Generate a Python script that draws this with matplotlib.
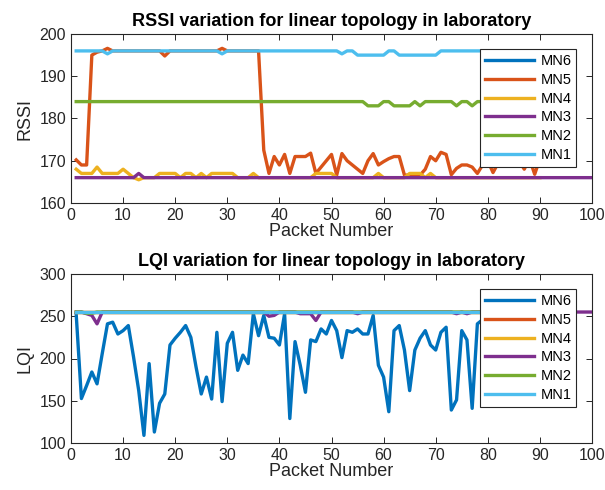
import matplotlib
matplotlib.use("Agg")
import matplotlib.pyplot as plt

plt.rcParams['font.family'] = ['Liberation Sans', 'DejaVu Sans']

labels = ["MN6", "MN5", "MN4", "MN3", "MN2", "MN1"]
colors = ["#0072BD", "#D95319", "#EDB120", "#7E2F8E", "#77AC30", "#4DBEEE"]

# ---------------- RSSI data ----------------
rssi_mn1 = [196, 196, 196, 196, 196, 196, 195.3, 196, 196, 196,
            196, 196, 196, 196, 196, 196, 196, 196, 196, 196,
            196, 196, 196, 196, 196, 196, 196, 196, 195.3, 196,
            196, 196, 196, 196, 196, 196, 196, 196, 196, 196,
            196, 196, 196, 196, 196, 196, 196, 196, 196, 196,
            196, 195.3, 196, 196, 195, 195, 195, 195, 195, 195,
            196, 196, 195, 195, 195, 195, 195, 195, 195, 195,
            196, 196, 196, 196, 196, 196, 196, 196, 196, 196,
            196, 196, 196, 196, 196, 196, 196, 196, 196, 196]
rssi_mn2 = [184, 184, 184, 184, 184, 184, 184, 184, 184, 184,
            184, 184, 184, 184, 184, 184, 184, 184, 184, 184,
            184, 184, 184, 184, 184, 184, 184, 184, 184, 184,
            184, 184, 184, 184, 184, 184, 184, 184, 184, 184,
            184, 184, 184, 184, 184, 184, 184, 184, 184, 184,
            184, 184, 184, 184, 184, 184, 183, 183, 183, 184,
            184, 183, 183, 183, 183, 184, 183, 184, 184, 184,
            184, 184, 184, 183, 184, 184, 183, 184, 184, 184,
            184, 184, 184, 184, 184, 184, 184, 184, 184, 184]
rssi_mn3 = [166, 166, 166, 166, 166, 166, 166, 166, 166, 166,
            166, 166, 167, 166, 166, 166, 166, 166, 166, 166,
            166, 166, 166, 166, 166, 166, 166, 166, 166, 166,
            166, 166, 166, 166, 166, 166, 166, 166, 166, 166,
            166, 166, 166, 166, 166, 166, 166, 166, 166, 166,
            166, 166, 166, 166, 166, 166, 166, 166, 166, 166,
            166, 166, 166, 166, 166, 166, 166, 166, 166, 166,
            166, 166, 166, 166, 166, 166, 166, 166, 166, 166,
            166, 166, 166, 166, 166, 166, 166, 166, 166, 166,
            166, 166, 166, 166, 166, 166, 166, 166, 166, 166]
rssi_mn4 = [168, 167, 167, 167, 168.5, 167, 167, 167, 167, 168,
            167, 166, 165.5, 166, 166, 166, 167, 167, 167, 167,
            166, 167, 167, 166, 167, 166, 167, 167, 167, 167,
            167, 166, 166, 166, 167, 166, 166, 166, 166, 166,
            166, 166, 166, 166, 166, 166, 167, 167, 167, 167,
            166, 166, 166, 166, 166, 166, 166, 166, 167, 166,
            166, 166, 166, 166, 167, 167, 167, 166, 167, 166,
            166, 166, 166, 166, 166, 166, 166, 166, 166, 166,
            166, 166, 166, 166, 166, 166, 166, 166, 166, 166]
rssi_mn5 = [170.2, 169, 169, 195, 195.7, 196, 196.6, 196, 196, 196,
            196, 196, 196, 196, 196, 196, 196, 194.8, 196, 196,
            196, 196, 196, 196, 196, 196, 196, 196, 196.6, 196,
            196, 196, 196, 196, 196, 196, 172.5, 167, 171, 169,
            171.5, 167, 171, 171, 171, 171.8, 167, 168.5, 170, 171.5,
            166.6, 171.7, 170, 169, 168, 167, 170, 171.7, 169, 169.8,
            170.5, 171, 171, 166.6, 166.6, 166.6, 166.6, 168, 171, 170,
            172, 171.5, 166.7, 168.2, 169, 169, 168.5, 167, 169, 170,
            167.2, 169.5, 169.3, 171, 171.5, 170, 168, 170.5, 166.8, 170.5]
rssi_mn6 = []

# ---------------- LQI data ----------------
lqi_mn1 = [255] * 90
lqi_mn2 = [255, 255, 253.5, 253.5, 255, 255, 255, 255, 255, 255,
           255, 255, 255, 255, 255, 255, 255, 255, 255, 255,
           255, 255, 255, 255, 255, 255, 255, 255, 255, 255,
           255, 255, 255, 255, 255, 255, 255, 255, 255, 255,
           255, 255, 255, 255, 255, 255, 255, 255, 255, 255,
           255, 255, 255, 255, 255, 255, 255, 255, 255, 255,
           255, 255, 255, 255, 255, 255, 255, 255, 255, 255,
           255, 255, 255, 255, 255, 255, 255, 255, 255, 255,
           255, 255, 255, 255, 255, 255, 255, 255, 255, 255]
lqi_mn3 = [255, 255, 253, 251, 241, 255, 255, 255, 255, 255,
           255, 255, 255, 255, 255, 255, 255, 255, 255, 255,
           255, 255, 255, 255, 255, 255, 255, 255, 255, 255,
           255, 255, 255, 255, 255, 255, 255, 250, 251, 255,
           255, 255, 255, 253, 253, 253, 245, 255, 255, 255,
           255, 255, 255, 255, 253, 255, 255, 255, 255, 255,
           255, 255, 255, 255, 255, 255, 255, 255, 255, 255,
           255, 255, 255, 253, 255, 253, 255, 255, 255, 255,
           255, 255, 255, 255, 255, 255, 255, 255, 255, 255,
           255, 255, 255, 255, 255, 255, 255, 255, 255, 255]
lqi_mn4 = [255] * 90
lqi_mn5 = [255] * 90
lqi_mn6 = [252, 152.6, 168, 184, 170, 206, 241, 243, 229, 233,
           239, 202, 162, 109, 194, 113, 147, 158, 216, 224,
           231, 239, 225, 190, 158, 178, 152, 231, 149, 218,
           231, 186, 204, 194, 253, 227, 251, 225, 224, 216,
           253, 129, 220, 192, 160, 222, 220, 235, 229, 245,
           233, 201, 233, 231, 235, 229, 229, 251, 192, 178,
           137, 233, 239, 210, 162, 210, 224, 233, 216, 210,
           231, 237, 139, 151, 233, 222, 141, 241, 246, 238]

rssi_series = [rssi_mn6, rssi_mn5, rssi_mn4, rssi_mn3, rssi_mn2, rssi_mn1]
lqi_series = [lqi_mn6, lqi_mn5, lqi_mn4, lqi_mn3, lqi_mn2, lqi_mn1]

W, H = 605, 490
fig = plt.figure(figsize=(W / 100, H / 100), dpi=100)

def px_axes(l, t, r, b):
    return fig.add_axes([l / W, 1 - b / H, (r - l) / W, (b - t) / H])

ax1 = px_axes(71, 34, 592, 203)
ax2 = px_axes(71, 274, 592, 443)

dark = "#262626"

def style(ax, title, ylabel, ylim, yticks):
    ax.set_xlim(0, 100)
    ax.set_ylim(*ylim)
    ax.set_xticks(range(0, 101, 10))
    ax.set_yticks(yticks)
    ax.tick_params(direction="in", top=True, right=True, length=4,
                   labelsize=11.5, colors=dark, width=0.7)
    for s in ax.spines.values():
        s.set_color(dark)
        s.set_linewidth(0.8)
    ax.set_title(title, fontsize=13, fontweight="bold", color="black", pad=6)
    ax.set_xlabel("Packet Number", fontsize=13, color=dark, labelpad=0)
    ax.set_ylabel(ylabel, fontsize=13, color=dark, labelpad=4)

for ax, series in ((ax1, rssi_series), (ax2, lqi_series)):
    for vals, lab, col in zip(series, labels, colors):
        xs = list(range(1, len(vals) + 1))
        ax.plot(xs, vals, color=col, lw=2.4, label=lab, solid_joinstyle="round")
    leg = ax.legend(loc="upper right", bbox_to_anchor=(0.97, 0.91),
                    borderaxespad=0, fontsize=10.5, handlelength=3.4,
                    handletextpad=0.4, labelspacing=0.32, borderpad=0.35,
                    fancybox=False, framealpha=1, edgecolor=dark)
    leg.get_frame().set_linewidth(0.8)

style(ax1, "RSSI variation for linear topology in laboratory", "RSSI",
      (160, 200), range(160, 201, 10))
style(ax2, "LQI variation for linear topology in laboratory", "LQI",
      (100, 300), range(100, 301, 50))

fig.savefig("out.png", dpi=100)
